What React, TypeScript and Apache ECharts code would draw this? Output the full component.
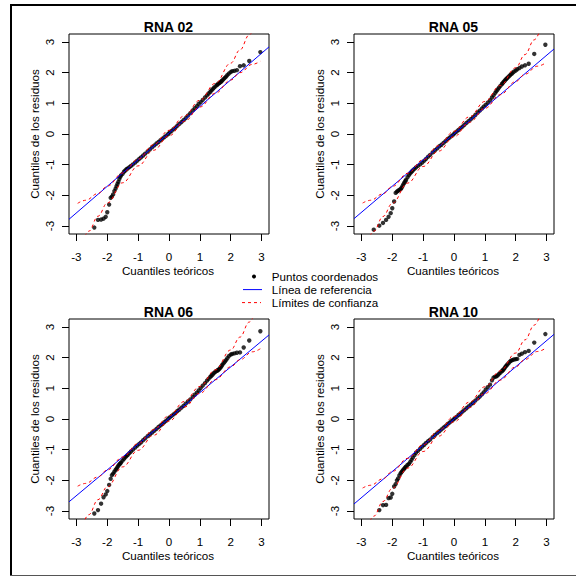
import React, { useEffect, useRef } from "react";
import * as echarts from "echarts";

// Theoretical normal quantiles (subset of the sample's plotting positions)
const THEO = [
  -2.96, -2.6, -2.42, -2.3, -2.2, -2.12, -2.05, -2.0, -1.94, -1.89, -1.85, -1.81, -1.77, -1.73, -1.7,
  -1.67, -1.64, -1.61, -1.58, -1.555, -1.505, -1.459, -1.416, -1.375, -1.336, -1.282, -1.231, -1.168,
  -1.094, -1.027, -0.963, -0.904, -0.836, -0.772, -0.692, -0.615, -0.543, -0.472, -0.404, -0.337,
  -0.274, -0.21, -0.147, -0.085, -0.023,
  0.023, 0.085, 0.147, 0.21, 0.274, 0.337, 0.404, 0.472, 0.543, 0.615, 0.692, 0.772, 0.836, 0.904,
  0.963, 1.027, 1.094, 1.168, 1.231, 1.282, 1.336, 1.375, 1.416, 1.459, 1.505, 1.555, 1.58, 1.61,
  1.64, 1.67, 1.7, 1.73, 1.77, 1.81, 1.85, 1.89, 1.94, 2.0, 2.05, 2.12, 2.2, 2.3, 2.42, 2.6, 2.96,
];

// Sample quantiles of the residuals
const RES_02 = [
  -3.62, -3.38, -3.05, -2.8, -2.79, -2.76, -2.7, -2.55, -2.3, -2.08, -2.04, -1.97, -1.86, -1.78, -1.7,
  -1.63, -1.56, -1.47, -1.4, -1.35, -1.3, -1.23, -1.19, -1.15, -1.12, -1.08, -1.04, -0.99, -0.93,
  -0.87, -0.81, -0.76, -0.7, -0.64, -0.57, -0.5, -0.43, -0.37, -0.31, -0.26, -0.2, -0.15, -0.1, -0.05, 0.0,
  0.05, 0.1, 0.16, 0.21, 0.27, 0.33, 0.39, 0.45, 0.52, 0.6, 0.68, 0.77, 0.84, 0.91, 0.98, 1.04, 1.11,
  1.19, 1.26, 1.32, 1.37, 1.42, 1.46, 1.51, 1.55, 1.6, 1.62, 1.65, 1.67, 1.69, 1.72, 1.75, 1.79, 1.83,
  1.87, 1.92, 1.97, 2.02, 2.05, 2.06, 2.08, 2.21, 2.24, 2.38, 2.67,
];
const RES_05 = [
  -3.6, -3.12, -2.99, -2.9, -2.8, -2.7, -2.58, -2.42, -2.2, -1.92, -1.88, -1.85, -1.82, -1.8, -1.76,
  -1.7, -1.64, -1.59, -1.54, -1.5, -1.41, -1.34, -1.28, -1.23, -1.19, -1.14, -1.09, -1.04, -0.99,
  -0.93, -0.87, -0.81, -0.74, -0.68, -0.6, -0.53, -0.47, -0.4, -0.35, -0.29, -0.23, -0.17, -0.12, -0.07, -0.02,
  0.03, 0.08, 0.13, 0.19, 0.24, 0.3, 0.36, 0.42, 0.48, 0.55, 0.62, 0.7, 0.76, 0.83, 0.89, 0.95, 1.02,
  1.1, 1.19, 1.26, 1.34, 1.4, 1.45, 1.51, 1.57, 1.63, 1.66, 1.7, 1.73, 1.77, 1.8, 1.83, 1.87, 1.91,
  1.95, 1.98, 2.03, 2.07, 2.11, 2.15, 2.2, 2.24, 2.29, 2.61, 2.91,
];
const RES_06 = [
  -3.7, -3.35, -3.08, -2.97, -2.76, -2.55, -2.46, -2.35, -2.15, -1.95, -1.83, -1.78, -1.72, -1.66,
  -1.62, -1.57, -1.52, -1.48, -1.45, -1.42, -1.36, -1.3, -1.25, -1.21, -1.17, -1.11, -1.06, -1.0,
  -0.93, -0.87, -0.81, -0.76, -0.69, -0.63, -0.56, -0.5, -0.44, -0.38, -0.32, -0.26, -0.21, -0.16, -0.1, -0.05, 0.01,
  0.05, 0.1, 0.15, 0.2, 0.26, 0.31, 0.37, 0.43, 0.5, 0.57, 0.64, 0.72, 0.79, 0.86, 0.93, 1.01, 1.09,
  1.17, 1.25, 1.31, 1.37, 1.41, 1.45, 1.5, 1.54, 1.57, 1.59, 1.61, 1.64, 1.68, 1.72, 1.77, 1.82, 1.87,
  1.92, 1.98, 2.05, 2.1, 2.12, 2.14, 2.16, 2.17, 2.33, 2.56, 2.86,
];
const RES_10 = [
  -3.7, -3.35, -2.97, -2.81, -2.8, -2.58, -2.56, -2.44, -2.2, -2.12, -2.0, -1.94, -1.84, -1.77, -1.73,
  -1.69, -1.65, -1.62, -1.58, -1.55, -1.5, -1.46, -1.4, -1.33, -1.26, -1.18, -1.1, -1.04, -0.97, -0.9,
  -0.84, -0.78, -0.72, -0.67, -0.59, -0.52, -0.46, -0.4, -0.34, -0.28, -0.23, -0.17, -0.12, -0.07, -0.02,
  0.02, 0.07, 0.13, 0.18, 0.24, 0.29, 0.35, 0.41, 0.47, 0.53, 0.6, 0.67, 0.73, 0.8, 0.87, 0.96, 1.04,
  1.12, 1.26, 1.35, 1.38, 1.39, 1.42, 1.47, 1.51, 1.56, 1.59, 1.62, 1.66, 1.71, 1.74, 1.78, 1.82, 1.87,
  1.9, 1.92, 1.94, 1.95, 1.96, 2.09, 2.13, 2.18, 2.22, 2.49, 2.77,
];

// Confidence envelopes
const BAND_UP_X = [-2.96, -2.7, -2.3, -2.0, -1.5, -1.0, -0.5, 0, 0.5, 1.0, 1.5, 2.0, 2.3, 2.6, 2.8];
const BAND_LO_X = [-2.8, -2.6, -2.3, -2.0, -1.5, -1.0, -0.5, 0, 0.5, 1.0, 1.5, 2.0, 2.3, 2.7, 2.96];

const UP_02 = [-2.26, -2.16, -1.94, -1.7, -1.27, -0.82, -0.35, 0.12, 0.59, 1.1, 1.65, 2.31, 2.74, 3.23, 3.58];
const LO_02 = [-3.52, -3.17, -2.68, -2.25, -1.59, -1.04, -0.53, -0.06, 0.41, 0.88, 1.33, 1.76, 2.0, 2.27, 2.37];
const UP_05 = [-2.25, -2.16, -1.95, -1.71, -1.28, -0.84, -0.38, 0.09, 0.56, 1.06, 1.58, 2.16, 2.59, 3.07, 3.41];
const LO_05 = [-3.51, -3.17, -2.69, -2.26, -1.6, -1.06, -0.56, -0.09, 0.38, 0.835, 1.28, 1.71, 1.95, 2.21, 2.31];
const UP_06 = [-2.19, -2.1, -1.89, -1.66, -1.24, -0.8, -0.35, 0.11, 0.57, 1.06, 1.6, 2.25, 2.67, 3.16, 3.5];
const LO_06 = [-3.46, -3.12, -2.63, -2.21, -1.56, -1.02, -0.53, -0.07, 0.39, 0.84, 1.28, 1.7, 1.93, 2.19, 2.29];
const UP_10 = [-2.25, -2.16, -1.95, -1.71, -1.28, -0.84, -0.38, 0.085, 0.55, 1.05, 1.57, 2.15, 2.58, 3.06, 3.4];
const LO_10 = [-3.51, -3.17, -2.69, -2.26, -1.6, -1.06, -0.56, -0.095, 0.37, 0.83, 1.27, 1.7, 1.94, 2.2, 2.3];

// Reference lines (end points at the plot edges)
const REF_X = [-3.24, 3.24];
const REF_02 = [-2.78, 2.84];
const REF_05 = [-2.76, 2.77];
const REF_06 = [-2.7, 2.74];
const REF_10 = [-2.77, 2.76];

const TICKS = [-3, -2, -1, 0, 1, 2, 3];
const TITLES = ["RNA 02", "RNA 05", "RNA 06", "RNA 10"];
const X_TITLE = "Cuantiles teóricos";
const Y_TITLE = "Cuantiles de los residuos";
const LEGEND_LABELS = ["Puntos coordenados", "Línea de referencia", "Límites de confianza"];

const PANELS = [
  { title: TITLES[0], res: RES_02, up: UP_02, lo: LO_02, ref: REF_02 },
  { title: TITLES[1], res: RES_05, up: UP_05, lo: LO_05, ref: REF_05 },
  { title: TITLES[2], res: RES_06, up: UP_06, lo: LO_06, ref: REF_06 },
  { title: TITLES[3], res: RES_10, up: UP_10, lo: LO_10, ref: REF_10 },
];

const GRIDS = [
  { left: 69, top: 34 },
  { left: 354, top: 34 },
  { left: 69, top: 319 },
  { left: 354, top: 319 },
];
const GW = 200;
const GH = 200;
const FONT = '"Liberation Sans", Arial, Helvetica, sans-serif';
const FS = 11.6;

function buildOption() {
  const grid: any[] = [];
  const xAxis: any[] = [];
  const yAxis: any[] = [];
  const series: any[] = [];
  const graphic: any[] = [];

  // Outer device border: top, left and bottom edges only
  const borderStyle = { stroke: "#000", lineWidth: 2 };
  graphic.push({ type: "line", shape: { x1: 10, y1: 5, x2: 576, y2: 5 }, style: borderStyle, silent: true });
  graphic.push({ type: "line", shape: { x1: 11, y1: 4, x2: 11, y2: 576 }, style: borderStyle, silent: true });
  graphic.push({
    type: "line",
    shape: { x1: 10, y1: 575.5, x2: 576, y2: 575.5 },
    style: { stroke: "#555", lineWidth: 1 },
    silent: true,
  });

  PANELS.forEach((p, i) => {
    const g = GRIDS[i];
    grid.push({
      left: g.left,
      top: g.top,
      width: GW,
      height: GH,
      show: true,
      borderColor: "#000",
      borderWidth: 1,
      backgroundColor: "transparent",
      containLabel: false,
    });
    xAxis.push({
      type: "value",
      gridIndex: i,
      min: -3.24,
      max: 3.24,
      axisLine: { show: false, onZero: false },
      axisTick: { show: true, inside: false, length: 7, customValues: TICKS, lineStyle: { color: "#000", width: 1 } },
      axisLabel: { customValues: TICKS, margin: 16.5, color: "#000", fontSize: FS, fontFamily: FONT },
      splitLine: { show: false },
    });
    yAxis.push({
      type: "value",
      gridIndex: i,
      min: -3.26,
      max: 3.26,
      axisLine: { show: false, onZero: false },
      axisTick: { show: true, inside: false, length: 7, customValues: TICKS, lineStyle: { color: "#000", width: 1 } },
      axisLabel: { customValues: TICKS, rotate: 90, margin: 14, color: "#000", fontSize: FS, fontFamily: FONT },
      splitLine: { show: false },
    });

    series.push({
      type: "scatter",
      xAxisIndex: i,
      yAxisIndex: i,
      data: THEO.map((x, k) => [x, p.res[k]]),
      symbol: "circle",
      symbolSize: 4.4,
      itemStyle: { color: "#000" },
      clip: true,
      z: 2,
    });
    series.push({
      type: "line",
      xAxisIndex: i,
      yAxisIndex: i,
      data: REF_X.map((x, k) => [x, p.ref[k]]),
      showSymbol: false,
      symbol: "none",
      lineStyle: { color: "#0000ff", width: 1 },
      clip: true,
      z: 3,
    });
    series.push({
      type: "line",
      xAxisIndex: i,
      yAxisIndex: i,
      data: BAND_UP_X.map((x, k) => [x, p.up[k]]),
      symbol: "none",
      smooth: 0.4,
      smoothMonotone: "x",
      lineStyle: { color: "#ff0000", width: 1, type: [3, 3] },
      clip: true,
      z: 4,
    });
    series.push({
      type: "line",
      xAxisIndex: i,
      yAxisIndex: i,
      data: BAND_LO_X.map((x, k) => [x, p.lo[k]]),
      symbol: "none",
      smooth: 0.4,
      smoothMonotone: "x",
      lineStyle: { color: "#ff0000", width: 1, type: [3, 3] },
      clip: true,
      z: 4,
    });

    graphic.push({
      type: "text",
      x: g.left + 99.5,
      y: g.top - 6.7,
      style: {
        text: p.title,
        font: `bold 14px ${FONT}`,
        fill: "#000",
        align: "center",
        verticalAlign: "middle",
        textAlign: "center",
        textVerticalAlign: "middle",
      },
    });
    graphic.push({
      type: "text",
      x: g.left + 99,
      y: g.top + 236.3,
      style: {
        text: X_TITLE,
        font: `${FS}px ${FONT}`,
        fill: "#000",
        align: "center",
        verticalAlign: "middle",
        textAlign: "center",
        textVerticalAlign: "middle",
      },
    });
    graphic.push({
      type: "text",
      x: g.left - 35,
      y: g.top + 100,
      rotation: Math.PI / 2,
      style: {
        text: Y_TITLE,
        font: `${FS}px ${FONT}`,
        fill: "#000",
        align: "center",
        verticalAlign: "middle",
        textAlign: "center",
        textVerticalAlign: "middle",
      },
    });
  });

  // Legend
  const lx = 271.8;
  const rows = [276.5, 289.6, 302.6];
  graphic.push({ type: "circle", shape: { cx: 254, cy: rows[0], r: 2 }, style: { fill: "#000" } });
  graphic.push({
    type: "line",
    shape: { x1: 243, y1: rows[1], x2: 262, y2: rows[1] },
    style: { stroke: "#0000ff", lineWidth: 1 },
  });
  graphic.push({
    type: "line",
    shape: { x1: 242, y1: rows[2], x2: 261, y2: rows[2] },
    style: { stroke: "#ff0000", lineWidth: 1, lineDash: [3, 3] },
  });
  LEGEND_LABELS.forEach((t, k) => {
    graphic.push({
      type: "text",
      x: lx,
      y: rows[k],
      style: {
        text: t,
        font: `${FS}px ${FONT}`,
        fill: "#000",
        align: "left",
        verticalAlign: "middle",
        textAlign: "left",
        textVerticalAlign: "middle",
      },
    });
  });

  return {
    animation: false,
    backgroundColor: "#ffffff",
    grid,
    xAxis,
    yAxis,
    series,
    graphic,
  };
}

export default function App() {
  const ref = useRef<HTMLDivElement>(null);
  useEffect(() => {
    if (!ref.current) return;
    const chart = echarts.init(ref.current, null, { renderer: "svg" });
    chart.setOption(buildOption() as any);
    return () => chart.dispose();
  }, []);
  return (
    <div
      ref={ref}
      style={{ position: "fixed", left: 0, top: 0, width: 576, height: 576, background: "#fff" }}
    />
  );
}
